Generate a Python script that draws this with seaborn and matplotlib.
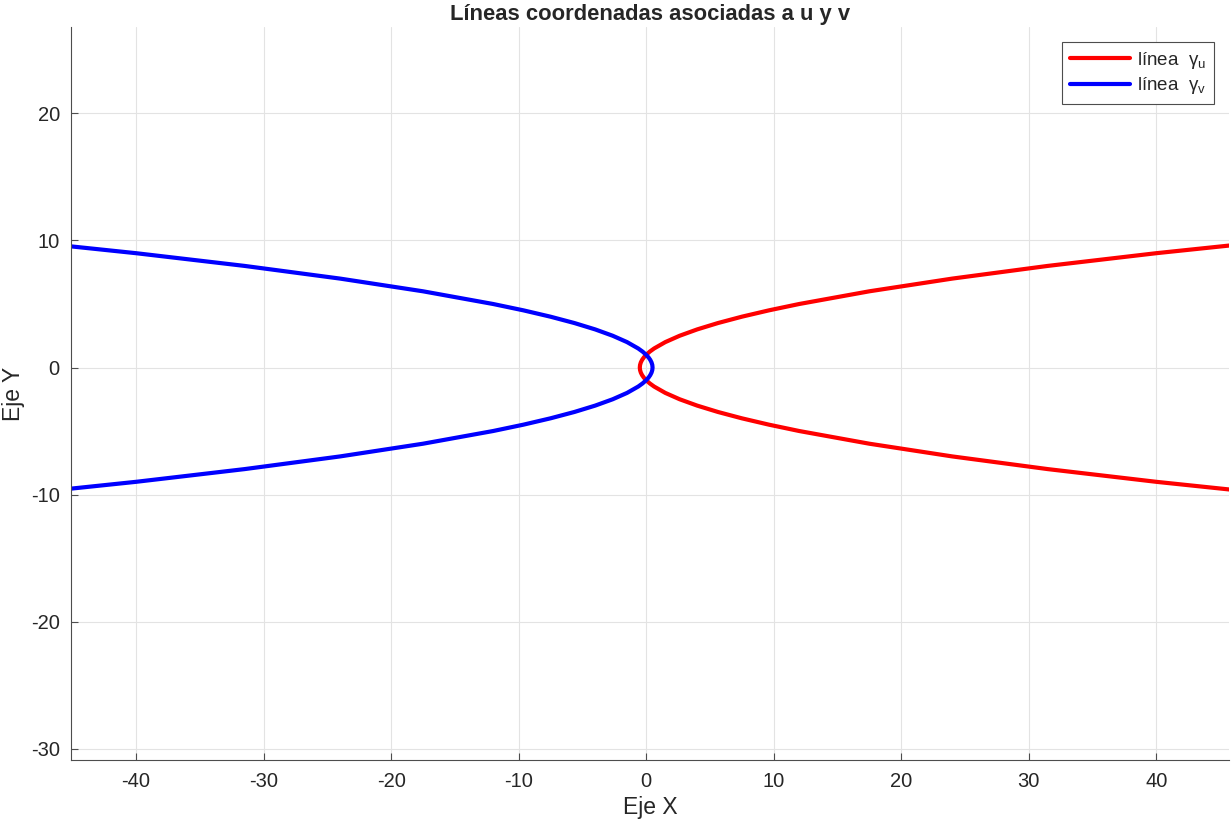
import seaborn as sns
import matplotlib.pyplot as plt
import pandas as pd

# puntos (y, x) para la linea gamma_u; gamma_v es su espejo en x
y_pts = [-10, -9, -8, -7, -6, -5, -4.5, -4, -3.5, -3, -2.5, -2, -1.5, -1.25, -1.0,
         -0.8, -0.6, -0.4, -0.2, 0, 0.2, 0.4, 0.6, 0.8, 1.0, 1.25, 1.5, 2, 2.5, 3,
         3.5, 4, 4.5, 5, 6, 7, 8, 9, 10]
xu_pts = [49.5, 40, 31.5, 24, 17.5, 12, 9.625, 7.5, 5.625, 4, 2.625, 1.5, 0.625, 0.28, 0,
          -0.18, -0.32, -0.42, -0.48, -0.5, -0.48, -0.42, -0.32, -0.18, 0, 0.28, 0.625, 1.5, 2.625, 4,
          5.625, 7.5, 9.625, 12, 17.5, 24, 31.5, 40, 49.5]
xv_pts = [-v for v in xu_pts]

df_u = pd.DataFrame({'x': xu_pts, 'y': y_pts})
df_v = pd.DataFrame({'x': xv_pts, 'y': y_pts})

sns.set_style('white')
plt.rcParams['font.family'] = ['Liberation Sans', 'DejaVu Sans']
plt.rcParams['mathtext.fontset'] = 'custom'
plt.rcParams['mathtext.rm'] = 'Liberation Sans'
plt.rcParams['mathtext.it'] = 'Liberation Sans'
plt.rcParams['axes.unicode_minus'] = False

fig = plt.figure(figsize=(12.32, 8.21), dpi=100)
ax = fig.add_axes([0.0576, 0.0743, 0.94, 0.8927])

sns.lineplot(data=df_u, x='x', y='y', sort=False, estimator=None, color='#ff0000',
             linewidth=3, ax=ax, label=r'línea  $\mathrm{\gamma_u}$')
sns.lineplot(data=df_v, x='x', y='y', sort=False, estimator=None, color='#0000ff',
             linewidth=3, ax=ax, label=r'línea  $\mathrm{\gamma_v}$')

ax.set_xlim(-45.1, 45.7)
ax.set_ylim(-30.9, 26.8)
ax.set_xticks(range(-40, 41, 10))
ax.set_yticks(range(-30, 21, 10))
ax.grid(True, color='#e3e3e3', linewidth=0.8)
ax.set_axisbelow(True)
for s in ['top', 'right']:
    ax.spines[s].set_visible(False)
for s in ['left', 'bottom']:
    ax.spines[s].set_color('#4d4d4d')
    ax.spines[s].set_linewidth(0.8)
ax.tick_params(direction='in', length=5, color='#4d4d4d', labelsize=14.5,
               labelcolor='#262626', left=True, bottom=True)
ax.tick_params(axis='x', pad=9)
ax.tick_params(axis='y', pad=8)

ax.set_xlabel('Eje X', fontsize=16.5, color='#262626', labelpad=3)
ax.set_ylabel('Eje Y', fontsize=16.5, color='#262626', labelpad=4)
ax.set_title('Líneas coordenadas asociadas a u y v', fontsize=15.8, fontweight='bold',
             color='#262626', pad=5)

leg = ax.legend(loc='upper right', fontsize=13.5, fancybox=False, framealpha=1,
                edgecolor='#4d4d4d', handlelength=3.2, handletextpad=0.4,
                labelspacing=0.25, borderaxespad=0.8)
leg.get_frame().set_linewidth(0.8)

plt.savefig('out.png', dpi=100)
